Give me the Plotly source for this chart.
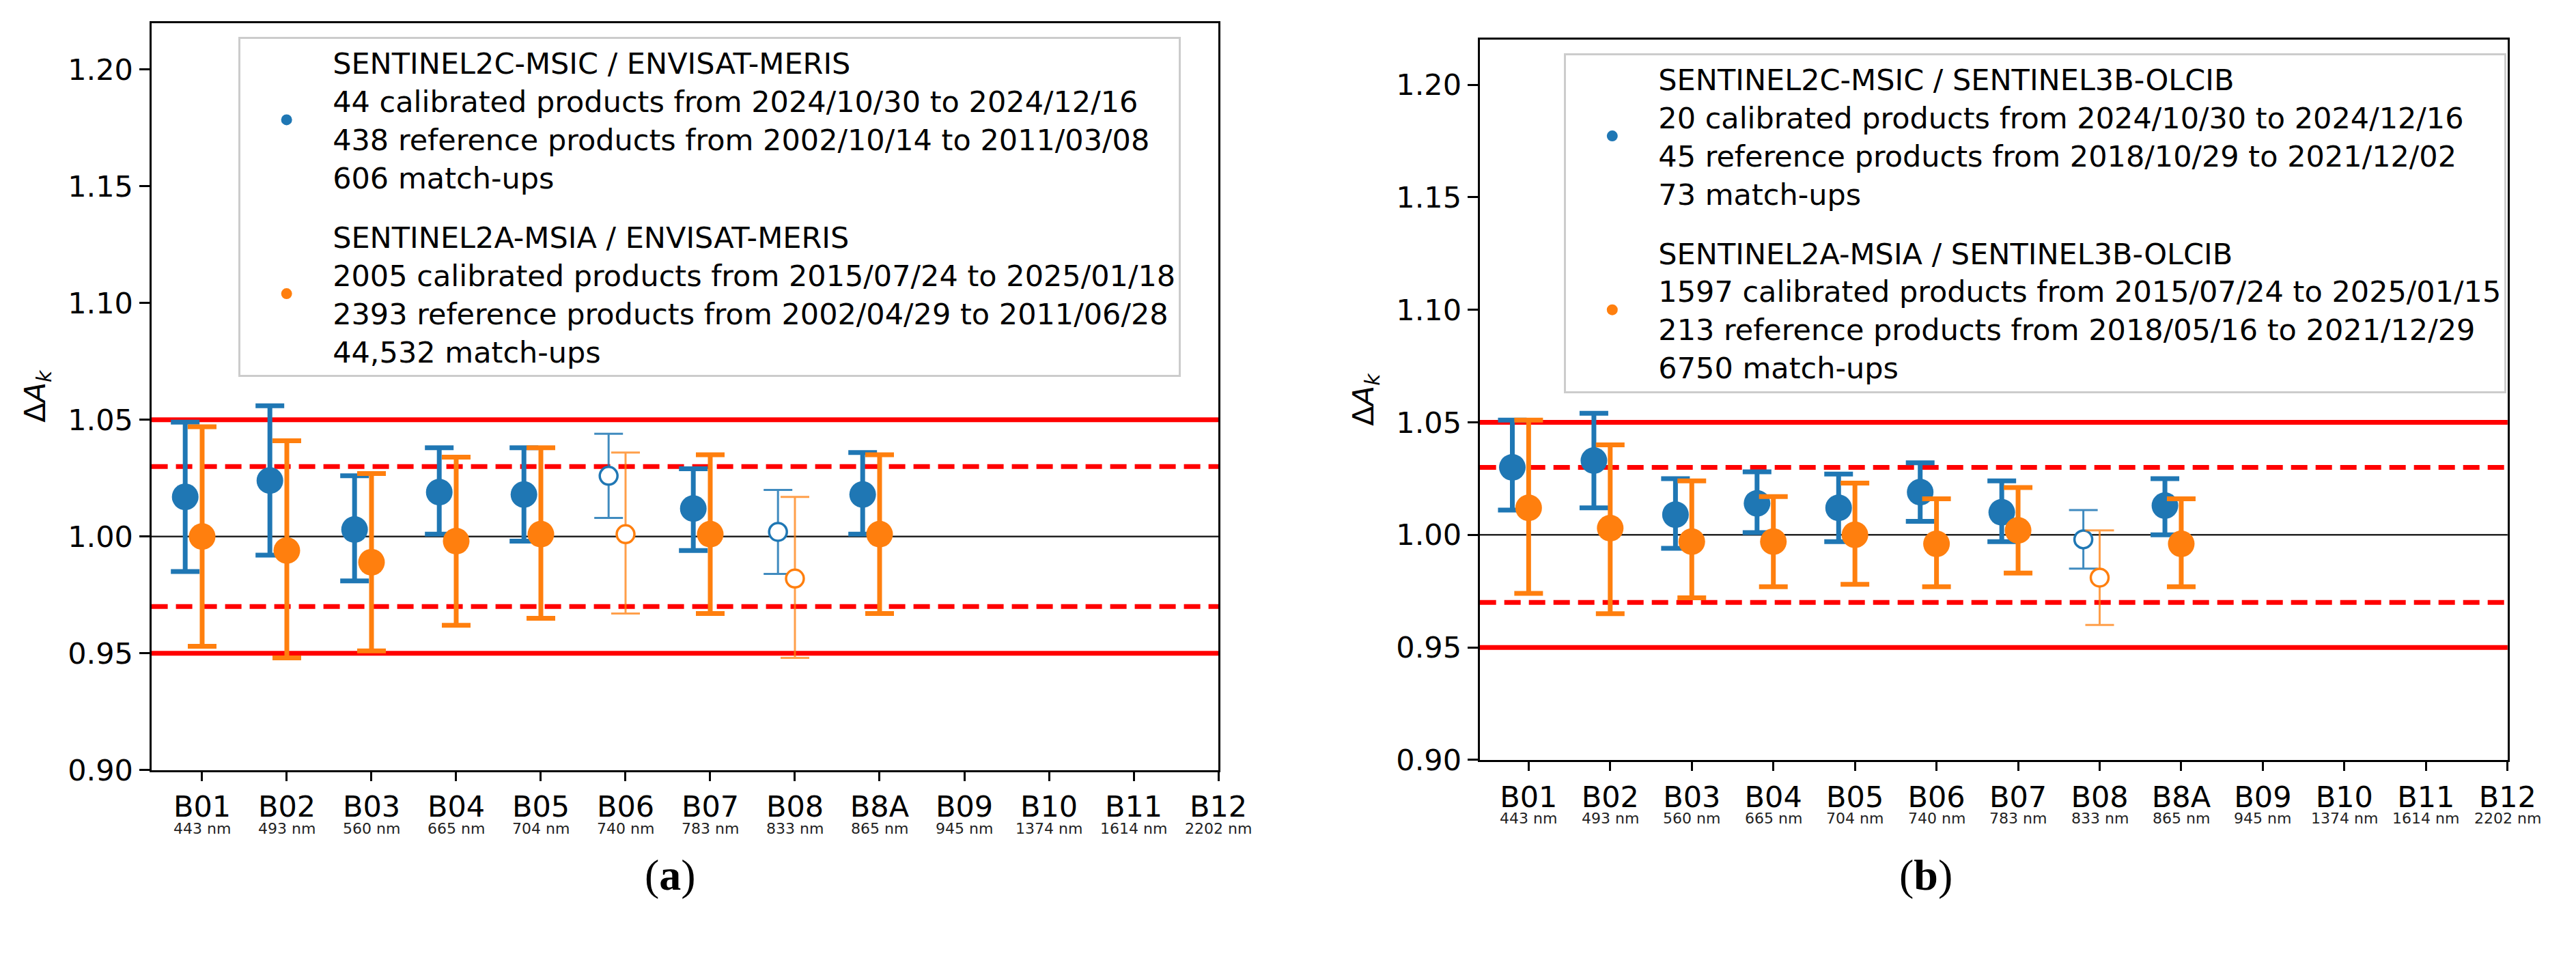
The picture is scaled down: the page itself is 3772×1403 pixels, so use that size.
import plotly.graph_objects as go

# ---------------- data ----------------
bands = ["B01", "B02", "B03", "B04", "B05", "B06", "B07", "B08", "B8A", "B09", "B10", "B11", "B12"]
wavelengths = ["443 nm", "493 nm", "560 nm", "665 nm", "704 nm", "740 nm", "783 nm",
               "833 nm", "865 nm", "945 nm", "1374 nm", "1614 nm", "2202 nm"]
data_bands = ["B01", "B02", "B03", "B04", "B05", "B06", "B07", "B08", "B8A"]

# panel (a): reference ENVISAT-MERIS
a_s2c_val = [1.017, 1.024, 1.003, 1.019, 1.018, 1.026, 1.012, 1.002, 1.018]
a_s2c_hi = [1.049, 1.056, 1.026, 1.038, 1.038, 1.044, 1.029, 1.020, 1.036]
a_s2c_lo = [0.985, 0.992, 0.981, 1.001, 0.998, 1.008, 0.994, 0.984, 1.001]
a_s2a_val = [1.000, 0.994, 0.989, 0.998, 1.001, 1.001, 1.001, 0.982, 1.001]
a_s2a_hi = [1.047, 1.041, 1.027, 1.034, 1.038, 1.036, 1.035, 1.017, 1.035]
a_s2a_lo = [0.953, 0.948, 0.951, 0.962, 0.965, 0.967, 0.967, 0.948, 0.967]
a_hollow = ["B06", "B08"]

# panel (b): reference SENTINEL3B-OLCIB
b_s2c_val = [1.030, 1.033, 1.009, 1.014, 1.012, 1.019, 1.010, 0.998, 1.013]
b_s2c_hi = [1.051, 1.054, 1.025, 1.028, 1.027, 1.032, 1.024, 1.011, 1.025]
b_s2c_lo = [1.011, 1.012, 0.994, 1.001, 0.997, 1.006, 0.997, 0.985, 1.000]
b_s2a_val = [1.012, 1.003, 0.997, 0.997, 1.000, 0.996, 1.002, 0.981, 0.996]
b_s2a_hi = [1.051, 1.040, 1.024, 1.017, 1.023, 1.016, 1.021, 1.002, 1.016]
b_s2a_lo = [0.974, 0.965, 0.972, 0.977, 0.978, 0.977, 0.983, 0.960, 0.977]
b_hollow = ["B08"]

a_legend = [
    "SENTINEL2C-MSIC / ENVISAT-MERIS<br>44 calibrated products from 2024/10/30 to 2024/12/16<br>"
    "438 reference products from 2002/10/14 to 2011/03/08<br>606 match-ups",
    "SENTINEL2A-MSIA / ENVISAT-MERIS<br>2005 calibrated products from 2015/07/24 to 2025/01/18<br>"
    "2393 reference products from 2002/04/29 to 2011/06/28<br>44,532 match-ups",
]
b_legend = [
    "SENTINEL2C-MSIC / SENTINEL3B-OLCIB<br>20 calibrated products from 2024/10/30 to 2024/12/16<br>"
    "45 reference products from 2018/10/29 to 2021/12/02<br>73 match-ups",
    "SENTINEL2A-MSIA / SENTINEL3B-OLCIB<br>1597 calibrated products from 2015/07/24 to 2025/01/15<br>"
    "213 reference products from 2018/05/16 to 2021/12/29<br>6750 match-ups",
]

solid_limits = [0.95, 1.05]
dashed_limits = [0.97, 1.03]
unity = [1.0]

y_ticks = [0.90, 0.95, 1.00, 1.05, 1.10, 1.15, 1.20]
y_range = [0.90, 1.22]
x_range = [-0.6, 12]

# ---------------- style ----------------
BLUE = "#1f77b4"
ORANGE = "#ff7f0e"
BLUE_LIGHT = "rgba(31,119,180,0.85)"
ORANGE_LIGHT = "rgba(255,127,14,0.75)"
FONT = "DejaVu Sans"
W, H = 3772, 1403

fig = go.Figure()


def add_series(val, hi, lo, hollow, offset, color, light, name, xa, ya, legend, show):
    idx = {b: i for i, b in enumerate(bands)}
    groups = {"filled": [], "hollow": []}
    for k, b in enumerate(data_bands):
        groups["hollow" if b in hollow else "filled"].append(k)
    for kind, ks in groups.items():
        if not ks:
            continue
        xs = [idx[data_bands[k]] + offset for k in ks]
        ys = [val[k] for k in ks]
        plus = [hi[k] - val[k] for k in ks]
        minus = [val[k] - lo[k] for k in ks]
        filled = kind == "filled"
        fig.add_trace(go.Scatter(
            x=xs, y=ys, mode="markers", xaxis=xa, yaxis=ya,
            name=name, legend=legend, legendgroup=name + legend,
            showlegend=(show and filled),
            marker=dict(size=39 if filled else 26,
                        color=color if filled else "white",
                        line=dict(width=0 if filled else 3.5, color=color)),
            error_y=dict(type="data", symmetric=False, array=plus, arrayminus=minus,
                         color=color if filled else light,
                         thickness=7 if filled else 3, width=21),
        ))


add_series(a_s2c_val, a_s2c_hi, a_s2c_lo, a_hollow, -0.2, BLUE, BLUE_LIGHT, a_legend[0], "x", "y", "legend", True)
add_series(a_s2a_val, a_s2a_hi, a_s2a_lo, a_hollow, 0.0, ORANGE, ORANGE_LIGHT, a_legend[1], "x", "y", "legend", True)
add_series(b_s2c_val, b_s2c_hi, b_s2c_lo, b_hollow, -0.2, BLUE, BLUE_LIGHT, b_legend[0], "x2", "y2", "legend2", True)
add_series(b_s2a_val, b_s2a_hi, b_s2a_lo, b_hollow, 0.0, ORANGE, ORANGE_LIGHT, b_legend[1], "x2", "y2", "legend2", True)

# reference lines
shapes = []
for xr, yr in (("x domain", "y"), ("x2 domain", "y2")):
    for v in solid_limits:
        shapes.append(dict(type="line", xref=xr, yref=yr, x0=0, x1=1, y0=v, y1=v,
                           line=dict(color="#ff0000", width=7), layer="below"))
    for v in dashed_limits:
        shapes.append(dict(type="line", xref=xr, yref=yr, x0=0, x1=1, y0=v, y1=v,
                           line=dict(color="#ff0000", width=7, dash="24px,12px"), layer="below"))
    for v in unity:
        shapes.append(dict(type="line", xref=xr, yref=yr, x0=0, x1=1, y0=v, y1=v,
                           line=dict(color="#222222", width=2.5), layer="below"))

annotations = []
for xr, yr in (("x", "y domain"), ("x2", "y2 domain")):
    for i, wl in enumerate(wavelengths):
        annotations.append(dict(x=i, y=0, xref=xr, yref=yr, text=wl, showarrow=False,
                                yanchor="middle", xanchor="center", yshift=-86,
                                font=dict(family=FONT, size=22, color="#222222")))
annotations.append(dict(x=945 / W, y=1 - 1335 / H, xref="paper", yref="paper", text="(<b>a</b>)",
                        showarrow=False, font=dict(family="Liberation Serif", size=64, color="black")))
annotations.append(dict(x=2885 / W, y=1 - 1335 / H, xref="paper", yref="paper", text="(<b>b</b>)",
                        showarrow=False, font=dict(family="Liberation Serif", size=64, color="black")))

xaxis_common = dict(range=x_range, tickmode="array", tickvals=list(range(len(bands))), ticktext=bands,
                    showgrid=False, zeroline=False, showline=True, mirror=True, linecolor="black",
                    linewidth=3, ticks="outside", ticklen=13, tickwidth=2.5, tickcolor="black",
                    tickfont=dict(family=FONT, size=43, color="black"), ticklabelstandoff=1)
yaxis_common = dict(range=y_range, tickmode="array", tickvals=y_ticks,
                    ticktext=[f"{v:.2f}" for v in y_ticks],
                    showgrid=False, zeroline=False, showline=True, mirror=True, linecolor="black",
                    linewidth=3, ticks="outside", ticklen=15, tickwidth=2.5, tickcolor="black",
                    tickfont=dict(family=FONT, size=43, color="black"),
                    title=dict(text="Δ<i>A</i><sub><i>k</i></sub>", standoff=20,
                               font=dict(family=FONT, size=43, color="black")))

legend_common = dict(bgcolor="white", bordercolor="#cccccc", borderwidth=3,
                     font=dict(family=FONT, size=43, color="black"),
                     xanchor="left", yanchor="top", itemwidth=125,
                     traceorder="grouped", tracegroupgap=28, itemsizing="trace")

fig.update_layout(
    width=W, height=H, autosize=False,
    margin=dict(l=0, r=0, t=0, b=0),
    paper_bgcolor="white", plot_bgcolor="white",
    xaxis=dict(domain=[216 / W, 1796 / W], anchor="y", **xaxis_common),
    yaxis=dict(domain=[1 - 1140 / H, 1 - 26 / H], anchor="x", **yaxis_common),
    xaxis2=dict(domain=[2183 / W, 3705 / W], anchor="y2", **xaxis_common),
    yaxis2=dict(domain=[1 - 1125 / H, 1 - 51 / H], anchor="x2", **yaxis_common),
    legend=dict(x=345 / W, y=1 - 47 / H, **legend_common),
    legend2=dict(x=2308 / W, y=1 - 71 / H, **legend_common),
    shapes=shapes,
    annotations=annotations,
)

fig.write_html("out.html")
